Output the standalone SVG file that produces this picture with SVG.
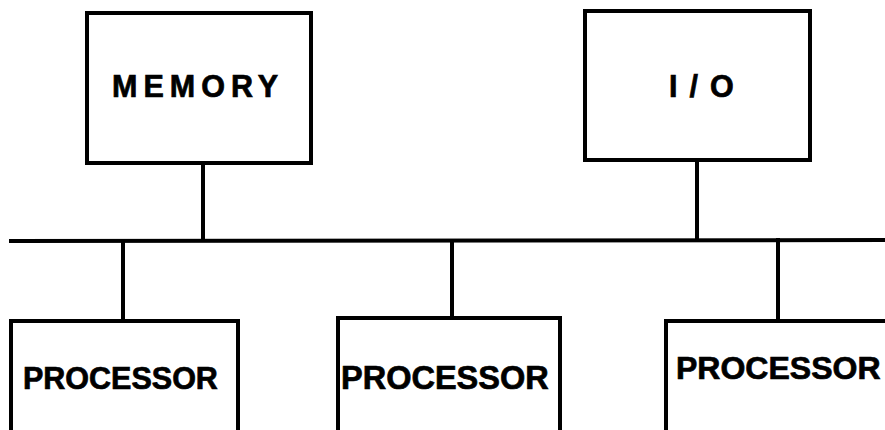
<svg xmlns="http://www.w3.org/2000/svg" width="885" height="430" viewBox="0 0 885 430">
<style>
.box{fill:#fff;stroke:#000;stroke-width:4}
.ln{stroke:#000;stroke-width:4;fill:none;stroke-linecap:square}
.t{font-family:"Liberation Sans",Arial,sans-serif;font-weight:bold;font-size:30.5px;fill:#000;stroke:#000;stroke-width:0.7}
</style>
<rect width="885" height="430" fill="#fff"/>
<g id="connectors">
<line class="ln" x1="11" y1="241" x2="885" y2="240"/>
<line class="ln" x1="203" y1="163" x2="203" y2="240"/>
<line class="ln" x1="697" y1="160" x2="697" y2="239"/>
<line class="ln" x1="123" y1="242" x2="123" y2="320"/>
<line class="ln" x1="452" y1="241" x2="452" y2="318"/>
<line class="ln" x1="778" y1="240" x2="778" y2="320"/>
</g>
<g id="memory">
<rect class="box" x="87" y="13" width="224" height="150"/>
<text class="t" x="112" y="97" letter-spacing="6">MEMORY</text>
</g>
<g id="io">
<rect class="box" x="585" y="11" width="225" height="149"/>
<text class="t" x="669" y="97" letter-spacing="12">I/O</text>
</g>
<g id="processor1">
<rect class="box" x="11" y="321" width="227" height="120"/>
<text class="t" x="23" y="389">PROCESSOR</text>
</g>
<g id="processor2">
<rect class="box" x="338" y="318" width="222" height="120"/>
<text class="t" x="341" y="389" style="font-size:32.5px">PROCESSOR</text>
</g>
<g id="processor3">
<rect class="box" x="666" y="321" width="240" height="120"/>
<text class="t" x="676" y="379" style="font-size:32px">PROCESSOR</text>
</g>
</svg>
